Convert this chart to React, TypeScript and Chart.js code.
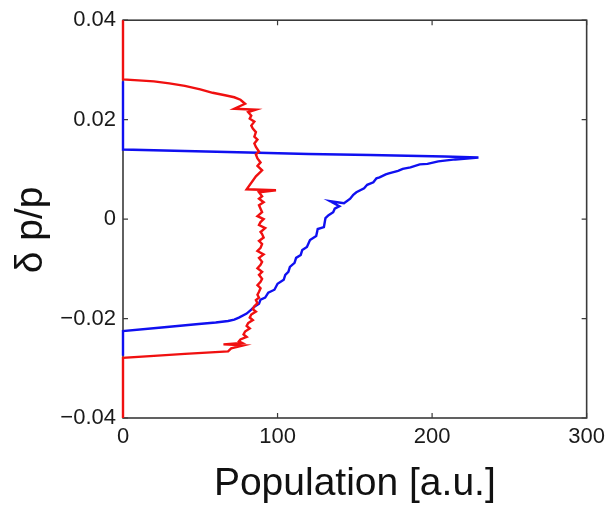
import React, { useEffect, useRef } from 'react';
import { Chart, registerables } from 'chart.js';

Chart.register(...registerables);

// Red branch: population vs relative price deviation
const redPopulation = [
  0, 0, 10, 20, 30, 40, 50, 58, 66, 72, 76, 79, 72, 86, 81, 83, 82, 85, 83, 84,
  86, 85, 87, 85, 86, 88, 86, 87, 89, 87, 90, 86, 80, 99, 88, 90, 88, 91, 88, 89,
  90, 87, 91, 89, 88, 92, 89, 90, 91, 88, 90, 89, 87, 91, 88, 90, 89, 87, 90, 88,
  90, 89, 87, 89, 88, 87, 88, 86, 87, 85, 84, 86, 83, 82, 84, 81, 80, 82, 79, 78,
  80, 76, 75, 77, 65, 78, 70, 68, 40, 20, 0, 0,
];
const redDelta = [
  0.04, 0.0281, 0.0279, 0.0277, 0.0273, 0.0268, 0.0261, 0.0254, 0.0249, 0.0245,
  0.024, 0.0232, 0.0222, 0.022, 0.0215, 0.0208, 0.0202, 0.0196, 0.0188, 0.0182,
  0.0175, 0.0166, 0.016, 0.0152, 0.0145, 0.0136, 0.013, 0.0122, 0.0114, 0.0107,
  0.0098, 0.0086, 0.006, 0.0058, 0.0054, 0.0046, 0.0041, 0.0034, 0.0028, 0.0021,
  0.0014, 0.0006, 0.0, -0.0006, -0.0012, -0.0018, -0.0026, -0.003, -0.0037, -0.0044,
  -0.005, -0.0058, -0.0064, -0.0071, -0.0078, -0.0086, -0.0092, -0.0099, -0.0106, -0.0112,
  -0.012, -0.0126, -0.0133, -0.0139, -0.0146, -0.0152, -0.0158, -0.0163, -0.0169, -0.0175,
  -0.0181, -0.0186, -0.0192, -0.0198, -0.0203, -0.0209, -0.0215, -0.022, -0.0226, -0.0232,
  -0.0237, -0.0242, -0.0246, -0.0249, -0.0252, -0.0254, -0.026, -0.0266, -0.0271, -0.0275,
  -0.0279, -0.04,
];

// Blue branch
const bluePopulation = [
  0, 0, 40, 81, 120, 160, 208, 230, 215, 204, 197, 192, 186, 181, 178, 172, 170,
  166, 164, 162, 158, 156, 151, 149, 147, 143, 134, 140, 137, 136, 133, 131, 130,
  126, 125, 121, 119, 116, 115, 112, 111, 108, 107, 105, 104, 100, 98, 94, 92,
  89, 88, 85, 83, 80, 75, 72, 68, 60, 49, 25, 0, 0,
];
const blueDelta = [
  0.0277, 0.014, 0.0137, 0.0134, 0.0131, 0.0129, 0.0126, 0.0124, 0.012, 0.0116,
  0.0111, 0.0110, 0.0104, 0.0101, 0.0097, 0.0092, 0.0090, 0.0084, 0.0082, 0.0074,
  0.0069, 0.0062, 0.0054, 0.0049, 0.0041, 0.0032, 0.0036, 0.0026, 0.0021, 0.0014,
  0.0008, 0.0002, -0.0016, -0.002, -0.0034, -0.0042, -0.0056, -0.0062, -0.0072, -0.0078,
  -0.0088, -0.0096, -0.0106, -0.0112, -0.0122, -0.013, -0.0142, -0.0148, -0.0158, -0.0162,
  -0.017, -0.0176, -0.0182, -0.019, -0.0198, -0.0202, -0.0205, -0.0208, -0.0211, -0.0218,
  -0.0225, -0.0275,
];

const xTicks = [0, 100, 200, 300];
const xTickLabels = ['0', '100', '200', '300'];
const yTicks = [-0.04, -0.02, 0, 0.02, 0.04];
const yTickLabels = ['\u22120.04', '\u22120.02', '0', '0.02', '0.04'];

const FONT = "'Liberation Sans', Arial, Helvetica, sans-serif";

const framePlugin = {
  id: 'matlabFrame',
  beforeDatasetsDraw(chart: any) {
    const { ctx, chartArea, scales } = chart;
    const { left, right, top, bottom } = chartArea;
    const xs = scales.x;
    const ys = scales.y;
    ctx.save();
    ctx.strokeStyle = '#3a3a3a';
    ctx.lineWidth = 1.6;
    ctx.strokeRect(left, top, right - left, bottom - top);
    ctx.lineWidth = 1.2;
    const len = 5;
    ctx.beginPath();
    xTicks.forEach((v) => {
      const px = xs.getPixelForValue(v);
      ctx.moveTo(px, bottom);
      ctx.lineTo(px, bottom - len);
      ctx.moveTo(px, top);
      ctx.lineTo(px, top + len);
    });
    yTicks.forEach((v) => {
      const py = ys.getPixelForValue(v);
      ctx.moveTo(left, py);
      ctx.lineTo(left + len, py);
      ctx.moveTo(right, py);
      ctx.lineTo(right - len, py);
    });
    ctx.stroke();
    ctx.restore();
  },
};

function toPoints(xs: number[], ys: number[]) {
  return xs.map((x, i) => ({ x, y: ys[i] }));
}

export default function App() {
  const canvasRef = useRef<HTMLCanvasElement | null>(null);

  useEffect(() => {
    const canvas = canvasRef.current;
    if (!canvas) return;
    const chart = new Chart(canvas, {
      type: 'scatter',
      data: {
        datasets: [
          {
            label: 'red',
            data: toPoints(redPopulation, redDelta),
            showLine: true,
            borderColor: '#f01010',
            backgroundColor: '#f01010',
            borderWidth: 2.4,
            pointRadius: 0,
            tension: 0,
            clip: false as any,
            order: 0,
          },
          {
            label: 'blue',
            data: toPoints(bluePopulation, blueDelta),
            showLine: true,
            borderColor: '#1010f0',
            backgroundColor: '#1010f0',
            borderWidth: 2.4,
            pointRadius: 0,
            tension: 0,
            clip: false as any,
            order: 1,
          },
        ],
      },
      options: {
        animation: false,
        responsive: true,
        maintainAspectRatio: false,
        layout: { padding: { top: 19, right: 18, left: 0, bottom: 0 } },
        plugins: {
          legend: { display: false },
          tooltip: { enabled: false },
        },
        scales: {
          x: {
            type: 'linear',
            min: 0,
            max: 300,
            afterFit: (scale: any) => {
              scale.height = 90;
            },
            afterBuildTicks: (scale: any) => {
              scale.ticks = xTicks.map((v) => ({ value: v }));
            },
            grid: { display: false, drawTicks: false },
            border: { display: false },
            ticks: {
              padding: 6,
              color: '#1a1a1a',
              font: { family: FONT, size: 22 },
              maxRotation: 0,
              callback: (v: any) => {
                const i = xTicks.indexOf(Number(v));
                return i >= 0 ? xTickLabels[i] : '';
              },
            },
            title: {
              display: true,
              text: 'Population [a.u.]',
              color: '#111',
              font: { family: FONT, size: 39 },
              padding: { top: 10, bottom: 0 },
            },
          },
          y: {
            type: 'linear',
            min: -0.04,
            max: 0.04,
            afterFit: (scale: any) => {
              scale.width = 123;
            },
            afterBuildTicks: (scale: any) => {
              scale.ticks = yTicks.map((v) => ({ value: v }));
            },
            grid: { display: false, drawTicks: false },
            border: { display: false },
            ticks: {
              padding: 7,
              color: '#1a1a1a',
              font: { family: FONT, size: 22 },
              callback: (v: any) => {
                const n = Number(v);
                let best = 0;
                yTicks.forEach((t, i) => {
                  if (Math.abs(t - n) < Math.abs(yTicks[best] - n)) best = i;
                });
                return yTickLabels[best];
              },
            },
            title: {
              display: true,
              text: '\u03b4 p/p  ',
              color: '#111',
              font: { family: FONT, size: 39 },
              padding: { top: 8, bottom: 0 },
            },
          },
        },
      },
      plugins: [framePlugin],
    });
    return () => chart.destroy();
  }, []);

  return (
    <div style={{ position: 'absolute', left: 0, top: 0, width: 611, height: 508, background: '#fff' }}>
      <canvas ref={canvasRef} />
    </div>
  );
}
